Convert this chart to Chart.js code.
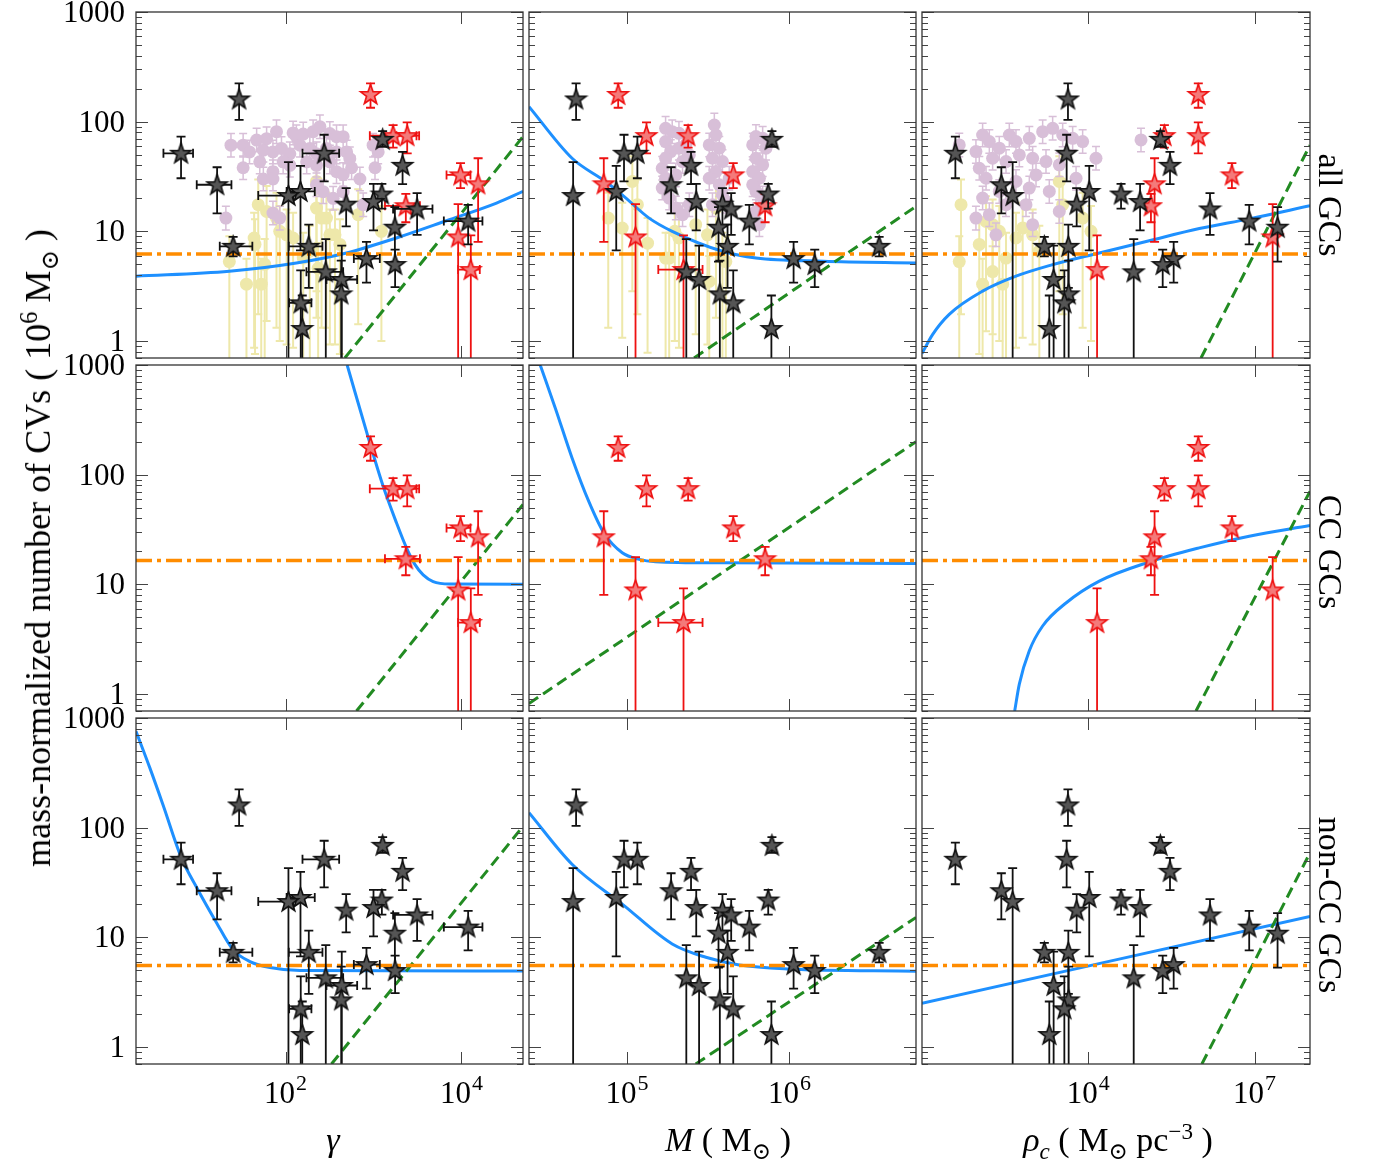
<!DOCTYPE html>
<html>
<head>
<meta charset="utf-8">
<title>CVs in globular clusters</title>
<script src="https://cdn.jsdelivr.net/npm/chart.js@4.4.1/dist/chart.umd.min.js"></script>
<style>
  body { margin: 0; background: #fff; }
  #fig { position: relative; width: 1375px; height: 1164px; overflow: hidden; font-family: "Liberation Serif", "Times New Roman", "Tinos", "DejaVu Serif", serif; color: #000; }
  #fig canvas { position: absolute; left: 0; top: 0; }
  .lbl { position: absolute; white-space: nowrap; font-size: 34px; line-height: 1; }
  .lbl sup, .lbl sub { font-size: 0.68em; line-height: 0; }
</style>
</head>
<body>
<div id="fig">
  <!-- axis titles -->
  <div class="lbl" style="left:38px; top:548px; font-size:36px; transform:translate(-50%,-50%) rotate(-90deg);">mass-normalized number of CVs ( 10<sup>6</sup> M<sub>⊙</sub> )</div>
  <div class="lbl" style="left:1330px; top:205px; transform:translate(-50%,-50%) rotate(90deg);">all GCs</div>
  <div class="lbl" style="left:1330px; top:552px; transform:translate(-50%,-50%) rotate(90deg);">CC GCs</div>
  <div class="lbl" style="left:1330px; top:905px; transform:translate(-50%,-50%) rotate(90deg);">non-CC GCs</div>
  <div class="lbl" style="left:333px; top:1140px; transform:translate(-50%,-50%);"><i>γ</i></div>
  <div class="lbl" style="left:728px; top:1140px; transform:translate(-50%,-50%);"><i>M</i> ( M<sub>⊙</sub> )</div>
  <div class="lbl" style="left:1118px; top:1140px; transform:translate(-50%,-50%);"><i>ρ<sub>c</sub></i> ( M<sub>⊙</sub> pc<sup>−3</sup> )</div>
</div>
<script>
// ---------- axes ----------
const yRange = [0.71, 1000];
const yTicks = [1, 10, 100, 1000];
const gammaRange = [2, 5e4];
const massRange = [2.5e4, 6e6];
const rhoRange = [10, 1e8];
const gammaTicks = [1e2, 1e4];
const gammaExp = ['2', '4'];
const massTicks = [1e5, 1e6];
const massExp = ['5', '6'];
const rhoTicks = [1e4, 1e7];
const rhoExp = ['4', '7'];

// ---------- non-CC GCs (black stars) ----------
const ncN   = [161, 69, 51.5, 51.5, 40, 26.6, 23.1, 21.9, 21.2, 18.7, 17.7, 16.0, 12.4, 10.9, 7.3, 7.3, 5.64, 4.98, 4.27, 3.64, 2.69, 2.23, 1.30];
const ncNLo = [104, 59, 30.5, 28.5, 27, 14.6, 6.7, 16.1, 0.1, 10.2, 11.1, 9.3, 7.6, 5.3, 5.9, 3.05, 3.4, 3.1, 0.1, 0.1, 0.1, 0.1, 0.1];
const ncNHi = [223, 82, 73, 76, 53, 38.4, 39.5, 27.1, 42.7, 27.1, 24.8, 22.3, 17.4, 16.6, 8.9, 11.5, 8.0, 6.8, 8.5, 7.4, 5.4, 4.4, 2.6];
const ncGamma   = [29.7, 1270, 6.5, 275, 2140, 16.7, 148, 1245, 108, 1000, 489, 3130, 11900, 1750, 25.4, 184, 832, 1760, 287, 436, 430, 149, 155];
const ncGammaLo = [null, null, 4.1, 156, null, 9.8, 103, null, 49, null, null, 1670, 6300, null, 17.9, 109, 598, null, 173, 292, null, 110, null];
const ncGammaHi = [null, null, 8.9, 407, null, 24.3, 215, null, 122, null, null, 4680, 17300, null, 42, 263, 1180, null, 452, 652, null, 197, null];
const ncMass = [48700, 7.8e5, 1.16e5, 9.6e4, 2.48e5, 1.87e5, 8.6e4, 7.4e5, 4.67e4, 2.67e5, 3.87e5, 4.38e5, 5.66e5, 3.66e5, 3.56e6, 4.16e5, 1.06e6, 1.43e6, 2.32e5, 2.78e5, 3.73e5, 4.51e5, 7.74e5];
const ncRho  = [4300, 2.0e5, 40, 4070, 2.98e5, 270, 1.04e4, 3.9e4, 432, 8.6e4, 6170, 1.57e6, 8.0e6, 2.6e7, 1610, 4365, 3.47e5, 2.2e5, 6.6e4, 2370, 4425, 3700, 1980];

// ---------- CC GCs (red stars) ----------
const ccN   = [177, 74.6, 74.6, 32.7, 27.1, 17.1, 8.88, 4.48];
const ccNLo = [134, 58, 51.5, 24.8, 8.0, 12.1, 0.1, 0.1];
const ccNHi = [223, 93, 98.6, 41.8, 46.4, 22.0, 17.7, 9.2];
const ccGamma   = [925, 1670, 2415, 9750, 15450, 2330, 9160, 12760];
const ccGammaLo = [null, 908, 1824, 6760, null, 1350, null, 9160];
const ccGammaHi = [null, 3080, 3300, 12650, null, 3370, null, 16140];
const ccMass   = [88400, 2.38e5, 1.32e5, 4.51e5, 72100, 7.08e5, 1.13e5, 2.23e5];
const ccMassLo = [null, null, null, null, null, null, null, 1.56e5];
const ccMassHi = [null, null, null, null, null, null, null, 2.92e5];
const ccRho = [9.66e5, 2.36e5, 9.66e5, 3.9e6, 1.57e5, 1.35e5, 2.12e7, 1.44e4];

// ---------- background samples (top row only) ----------
const purpleGammaX = [24, 33, 39, 47, 56, 61, 72, 79, 90, 112, 122, 133, 146, 159, 189, 206, 225, 246, 292, 319, 380, 380, 452, 495, 538, 990, 1130, 33, 51, 72, 94, 112, 174, 225, 319, 380, 452, 564, 700, 1040, 56, 72, 268, 348, 452, 764, 72, 86, 21, 225];
const purpleGammaY = [61, 61, 53, 68, 55, 70, 53, 81, 57, 51, 79, 73, 61, 77, 57, 81, 51, 90, 57, 78, 73, 53, 73, 53, 46, 61, 53, 38, 43, 35, 43, 40, 43, 40, 43, 35, 33, 38, 30, 38, 30, 30, 23, 20, 23, 17.5, 14.7, 13.2, 13.2, 26.6];
const yellowGammaX = [23, 36, 49, 45, 53, 79, 86, 103, 225, 225, 319, 365, 670, 1230, 159, 189, 61, 292, 44, 58, 122, 235, 257, 415];
const yellowGammaY = [5.3, 3.3, 17.5, 7.6, 3.3, 13.2, 10, 9.3, 28.5, 16.3, 9.3, 9.3, 14.2, 10, 5.7, 6.6, 15.2, 13.2, 8.7, 5.0, 8.7, 4.6, 13.2, 7.6];

const purpleMassX = [1.73e5, 1.9e5, 2.09e5, 1.73e5, 1.86e5, 2.09e5, 2.3e5, 1.65e5, 1.73e5, 2.0e5, 2.2e5, 2.42e5, 1.65e5, 1.82e5, 2.0e5, 2.2e5, 2.42e5, 1.73e5,
                     3.45e5, 3.53e5, 3.21e5, 3.7e5, 3.36e5, 3.87e5, 3.53e5, 3.21e5, 3.7e5, 3.87e5, 3.36e5, 4.06e5, 4.26e5,
                     6.22e5, 6.84e5, 5.94e5, 7.17e5, 6.22e5, 6.84e5, 5.94e5, 6.53e5, 6.22e5, 6.84e5, 6.22e5, 6.53e5, 5.94e5];
const purpleMassY = [86.9, 81, 78.3, 65.8, 53.4, 57.3, 61.4, 37.6, 30.5, 32.7, 43.3, 49.8, 24.8, 20.1, 16.3, 14.2, 17.5, 46.4,
                     93.3, 75.6, 61.4, 57.3, 46.4, 43.3, 35.1, 30.5, 26.6, 21.5, 17.5, 18.8, 30.5,
                     73.1, 70.5, 61.4, 57.3, 46.4, 40.4, 35.1, 30.5, 23.1, 20.1, 15.2, 11.5, 26.6];
const yellowMassX = [76800, 93600, 1.08e5, 1.16e5, 1.34e5, 1.73e5, 1.82e5, 1.97e5, 2.09e5, 2.65e5, 3.13e5, 3.21e5, 3.53e5, 3.87e5, 4.06e5];
const yellowMassY = [13.2, 10.7, 28.5, 17.5, 7.8, 5.7, 5.7, 10, 8.7, 11.5, 9.3, 3.5, 16.3, 5.7, 5.3];

const purpleRhoX = [47, 94, 124, 164, 248, 376, 496, 863, 1502, 2276, 3451, 5224, 7910, 108, 188, 328, 570, 991, 1726, 3000, 6020, 1140, 496, 863, 248, 124, 94, 164, 328, 1980, 3000, 216, 991, 13770, 89300, 143, 752];
const purpleRhoY = [61.4, 53.4, 75.6, 65.8, 57.3, 75.6, 65.8, 70.5, 81, 86.9, 75.6, 70.5, 65.8, 37.6, 46.4, 43.3, 49.8, 46.4, 43.3, 40.4, 30.5, 32.7, 28.5, 24.8, 23.1, 20.1, 13.2, 14.2, 17.5, 23.1, 15.2, 9.3, 11.5, 46.4, 68.1, 30.5, 17.5];
const yellowRhoX = [50.6, 47, 108, 124, 188, 188, 248, 285, 496, 655, 991, 3000, 3451, 7910, 11200, 143, 328, 1308];
const yellowRhoY = [17.5, 5.3, 7.6, 3.3, 11.5, 4.3, 10, 3.3, 8.7, 10.7, 9.3, 28.5, 17.5, 13.2, 10, 12.3, 5.7, 6.6];

const purpleErr = 1.28;   // error bars of the purple samples are about +/-0.1 dex
const yellowUp = 1.7;     // yellow samples: bar up ~0.23 dex, down off the axis
const yellowDown = 0.1;

// ---------- fit curves ----------
const blueAllGamma = [[2, 3.9], [23, 4.33], [133, 5.15], [493, 6.35], [1820, 8.7], [6760, 12.5], [25000, 18.1], [50000, 23.1]];
const blueAllMass = [[25000, 137], [46000, 46.4], [73800, 28.5], [93600, 21.5], [137000, 13.2], [190000, 10.0], [387000, 6.58], [622000, 5.72], [1.61e6, 5.34], [6e6, 5.15]];
const blueAllRho = [[10, 0.77], [15.6, 1.15], [31, 1.75], [124, 2.85], [496, 3.9], [1980, 4.87], [15800, 6.35], [126000, 8.22], [1.01e6, 10.6], [8.0e6, 13.0], [1e8, 17.1]];
const blueCCGamma = [[502, 1000], [925, 185], [1288, 78.3], [1824, 36.4], [2371, 21.5], [2950, 15.2], [3667, 12.2], [4764, 10.6], [7365, 10.07], [50000, 10.0]];
const blueCCMass = [[29300, 1000], [36300, 404], [46000, 142], [58200, 57.3], [72100, 29.5], [93600, 19.4], [119000, 16.9], [150000, 16.1], [387000, 15.7], [6e6, 15.5]];
const blueCCRho = [[470, 0.7], [570, 1.23], [863, 2.48], [1500, 4.17], [3960, 6.76], [15800, 10.7], [126000, 16.0], [1.0e6, 21.5], [8.0e6, 27.5], [1e8, 34.4]];
const blueNonGamma = [[2, 757], [2.88, 349], [4.06, 161], [6.49, 54.2], [10.1, 27.2], [16.2, 13.9], [25.3, 7.73], [39.5, 6.01], [66.6, 5.3], [146, 4.98], [50000, 4.94]];
const blueNonMass = [[25000, 137], [46000, 46.4], [93600, 20.1], [190000, 8.7], [306000, 6.58], [491000, 5.6], [1.0e6, 5.15], [6e6, 4.91]];
const blueNonRho = [[10, 2.51], [1e8, 15.5]];

const greenAllGamma = [[472, 0.7], [50000, 73]];
const greenAllMass = [[259000, 0.7], [6e6, 16.9]];
const greenAllRho = [[1.08e6, 0.7], [1e8, 61]];
const greenCCGamma = [[641, 0.7], [50000, 53.4]];
const greenCCMass = [[25000, 0.82], [6e6, 200]];
const greenCCRho = [[877000, 0.7], [1e8, 70.5]];
const greenNonGamma = [[333, 0.7], [50000, 103]];
const greenNonMass = [[265000, 0.7], [6e6, 15.2]];
const greenNonRho = [[1.12e6, 0.7], [1e8, 59]];

const flatLevel = [6.2, 16.5, 5.55]; // all, CC, non-CC

// ---------- layout ----------
const W = 1375, H = 1164;
const colBox = [[136, 523], [529, 916], [922, 1310]];
const rowBox = [[12, 358], [365, 711], [718, 1064]];

const BLUE = '#1e90ff', GREEN = '#228b22', ORANGE = '#ff8c00';
const PURPLE = '#d8bfd8', YELLOW = '#eee8aa';
const FONT = '"Liberation Serif", "Times New Roman", "Tinos", "DejaVu Serif", serif';

function starMarker(fill, edge, r) {
  const s = Math.ceil(2 * r + 4);
  const c = document.createElement('canvas');
  c.width = c.height = s;
  const g = c.getContext('2d');
  g.translate(s / 2, s / 2 + r * 0.05);
  g.beginPath();
  for (let i = 0; i < 10; i++) {
    const rr = i % 2 ? r * 0.4 : r;
    const t = -Math.PI / 2 + i * Math.PI / 5;
    g.lineTo(rr * Math.cos(t), rr * Math.sin(t));
  }
  g.closePath();
  g.fillStyle = fill;
  g.fill();
  g.lineWidth = 1.6;
  g.strokeStyle = edge;
  g.stroke();
  return c;
}
const blackStar = starMarker('#555555', '#111111', 10.5);
const redStar = starMarker('#f47a7a', '#ee1111', 10.5);

// error bars drawn just before each dataset's points
const errorBars = {
  id: 'errorBars',
  beforeDatasetDraw(chart, args) {
    const ds = chart.data.datasets[args.index];
    if (!ds.errColor) return;
    const { ctx, chartArea: a, scales: { x, y } } = chart;
    const cap = ds.errCap;
    ctx.save();
    ctx.beginPath();
    ctx.rect(a.left, a.top, a.right - a.left, a.bottom - a.top);
    ctx.clip();
    ctx.strokeStyle = ds.errColor;
    ctx.lineWidth = ds.errWidth;
    ds.data.forEach(p => {
      const px = x.getPixelForValue(p.x), py = y.getPixelForValue(p.y);
      ctx.beginPath();
      if (p.yLo != null) {
        const y1 = y.getPixelForValue(p.yLo), y2 = y.getPixelForValue(p.yHi);
        ctx.moveTo(px, y1); ctx.lineTo(px, y2);
        ctx.moveTo(px - cap, y1); ctx.lineTo(px + cap, y1);
        ctx.moveTo(px - cap, y2); ctx.lineTo(px + cap, y2);
      }
      if (p.xLo != null) {
        const x1 = x.getPixelForValue(p.xLo), x2 = x.getPixelForValue(p.xHi);
        ctx.moveTo(x1, py); ctx.lineTo(x2, py);
        ctx.moveTo(x1, py - cap); ctx.lineTo(x1, py + cap);
        ctx.moveTo(x2, py - cap); ctx.lineTo(x2, py + cap);
      }
      ctx.stroke();
    });
    ctx.restore();
  }
};

// frame, inward ticks on all sides and tick labels
const panelFrame = {
  id: 'panelFrame',
  afterDraw(chart, args, o) {
    const { ctx, chartArea: a, scales: { x, y } } = chart;
    ctx.save();
    ctx.strokeStyle = '#444';
    ctx.lineWidth = 1;
    ctx.beginPath();
    [0.1, 1, 10, 100].forEach(d => {
      for (let m = 2; m <= 9; m++) {
        const v = d * m;
        if (v < y.min || v > y.max) continue;
        const py = Math.round(y.getPixelForValue(v)) + 0.5;
        ctx.moveTo(a.left, py); ctx.lineTo(a.left + 6, py);
        ctx.moveTo(a.right, py); ctx.lineTo(a.right - 6, py);
      }
    });
    yTicks.forEach(v => {
      const py = Math.round(y.getPixelForValue(v)) + 0.5;
      ctx.moveTo(a.left, py); ctx.lineTo(a.left + 12, py);
      ctx.moveTo(a.right, py); ctx.lineTo(a.right - 12, py);
    });
    o.xTicks.forEach(v => {
      const px = Math.round(x.getPixelForValue(v)) + 0.5;
      ctx.moveTo(px, a.top); ctx.lineTo(px, a.top + 12);
      ctx.moveTo(px, a.bottom); ctx.lineTo(px, a.bottom - 12);
    });
    ctx.stroke();
    ctx.strokeStyle = '#333';
    ctx.lineWidth = 1.3;
    ctx.strokeRect(a.left, a.top, a.right - a.left, a.bottom - a.top);

    ctx.fillStyle = '#000';
    const big = '31px ' + FONT;
    const small = '22px ' + FONT;
    if (o.yLabels) {
      ctx.font = big;
      ctx.textAlign = 'right';
      ctx.textBaseline = 'middle';
      yTicks.forEach(v => ctx.fillText(String(v), a.left - 11, y.getPixelForValue(v) + 2));
    }
    if (o.xExp) {
      ctx.textAlign = 'left';
      ctx.textBaseline = 'alphabetic';
      o.xTicks.forEach((v, i) => {
        const e = o.xExp[i];
        ctx.font = big;
        const w1 = ctx.measureText('10').width;
        ctx.font = small;
        const w2 = ctx.measureText(e).width;
        const x0 = x.getPixelForValue(v) - (w1 + w2 + 1) / 2;
        ctx.font = big;
        ctx.fillText('10', x0, a.bottom + 39);
        ctx.font = small;
        ctx.fillText(e, x0 + w1 + 1, a.bottom + 26);
      });
    }
    ctx.restore();
  }
};

function curve(pts, color, width, dash, smooth) {
  return {
    data: pts.map(([x, y]) => ({ x, y })),
    showLine: true, borderColor: color, borderWidth: width, borderDash: dash,
    borderCapStyle: 'butt', pointRadius: 0, fill: false,
    cubicInterpolationMode: smooth ? 'monotone' : 'default',
    clip: 0, order: 3
  };
}

function stars(xs, xLo, xHi, ys, yLo, yHi, img, color, order) {
  return {
    data: xs.map((x, i) => ({
      x, y: ys[i],
      xLo: xLo ? xLo[i] : null, xHi: xHi ? xHi[i] : null,
      yLo: yLo[i], yHi: yHi[i]
    })),
    pointStyle: img, pointRadius: 10, borderWidth: 0,
    errColor: color, errWidth: 1.8, errCap: 4.5, clip: 0, order
  };
}

function samples(xs, ys, color, lo, hi, width, order) {
  return {
    data: xs.map((x, i) => ({ x, y: ys[i], yLo: ys[i] * lo, yHi: ys[i] * hi })),
    pointStyle: 'circle', pointRadius: 6.5, borderWidth: 0, backgroundColor: color,
    errColor: color, errWidth: width, errCap: 4, clip: 0, order
  };
}

const columns = [
  { range: gammaRange, ticks: gammaTicks, exp: gammaExp,
    nc: [ncGamma, ncGammaLo, ncGammaHi], cc: [ccGamma, ccGammaLo, ccGammaHi],
    purple: [purpleGammaX, purpleGammaY], yellow: [yellowGammaX, yellowGammaY],
    blue: [blueAllGamma, blueCCGamma, blueNonGamma], green: [greenAllGamma, greenCCGamma, greenNonGamma] },
  { range: massRange, ticks: massTicks, exp: massExp,
    nc: [ncMass, null, null], cc: [ccMass, ccMassLo, ccMassHi],
    purple: [purpleMassX, purpleMassY], yellow: [yellowMassX, yellowMassY],
    blue: [blueAllMass, blueCCMass, blueNonMass], green: [greenAllMass, greenCCMass, greenNonMass] },
  { range: rhoRange, ticks: rhoTicks, exp: rhoExp,
    nc: [ncRho, null, null], cc: [ccRho, null, null],
    purple: [purpleRhoX, purpleRhoY], yellow: [yellowRhoX, yellowRhoY],
    blue: [blueAllRho, blueCCRho, blueNonRho], green: [greenAllRho, greenCCRho, greenNonRho] }
];

const fig = document.getElementById('fig');

rowBox.forEach((rb, row) => {
  columns.forEach((c, col) => {
    const cb = colBox[col];
    const datasets = [];
    if (row === 0) {
      datasets.push(samples(c.yellow[0], c.yellow[1], YELLOW, yellowDown, yellowUp, 2, 6));
      datasets.push(samples(c.purple[0], c.purple[1], PURPLE, 1 / purpleErr, purpleErr, 1.5, 5));
    }
    datasets.push(curve([[c.range[0], flatLevel[row]], [c.range[1], flatLevel[row]]], ORANGE, 3.5, [16, 5, 4, 5], false));
    datasets.push(curve(c.green[row], GREEN, 3, [11, 6], false));
    datasets.push(curve(c.blue[row], BLUE, 3, [], true));
    if (row !== 2) datasets.push(stars(c.cc[0], c.cc[1], c.cc[2], ccN, ccNLo, ccNHi, redStar, '#ee1111', 2));
    if (row !== 1) datasets.push(stars(c.nc[0], c.nc[1], c.nc[2], ncN, ncNLo, ncNHi, blackStar, '#111111', 1));

    const cv = document.createElement('canvas');
    cv.width = W;
    cv.height = H;
    fig.insertBefore(cv, fig.firstChild);
    new Chart(cv, {
      type: 'scatter',
      data: { datasets },
      options: {
        responsive: false,
        animation: false,
        events: [],
        layout: { autoPadding: false, padding: { left: cb[0], right: W - cb[1], top: rb[0], bottom: H - rb[1] } },
        scales: {
          x: { type: 'logarithmic', display: false, min: c.range[0], max: c.range[1] },
          y: { type: 'logarithmic', display: false, min: yRange[0], max: yRange[1] }
        },
        plugins: {
          legend: { display: false },
          tooltip: { enabled: false },
          panelFrame: { xTicks: c.ticks, xExp: row === 2 ? c.exp : null, yLabels: col === 0 }
        }
      },
      plugins: [errorBars, panelFrame]
    });
  });
});
</script>
</body>
</html>
